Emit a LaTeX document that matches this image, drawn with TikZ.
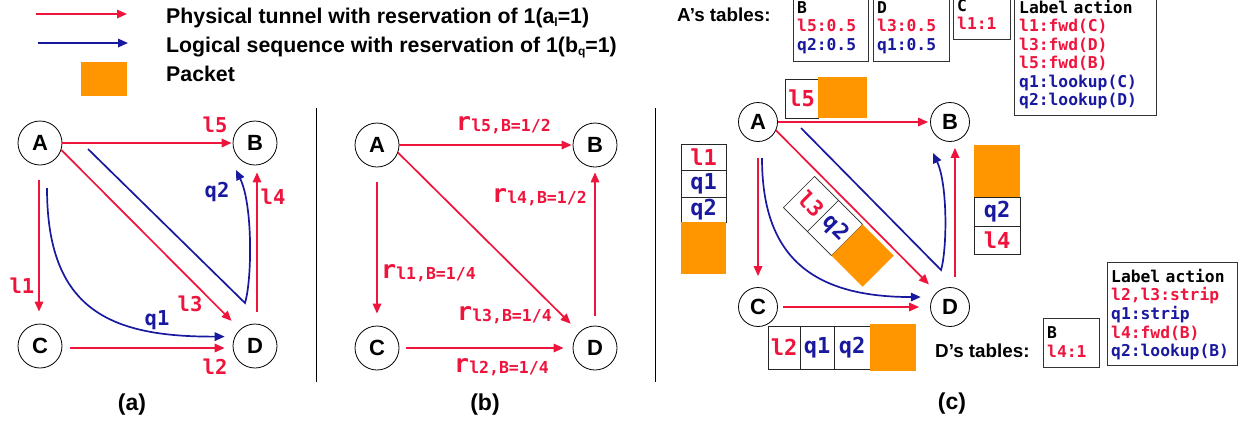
\documentclass[tikz,border=0pt]{standalone}
\usepackage{fontspec}
\setmainfont{Liberation Sans}
\newfontfamily\monof{DejaVu Sans Mono}
\usetikzlibrary{arrows.meta}
\definecolor{tred}{RGB}{238,20,60}
\definecolor{tblue}{RGB}{25,25,160}
\definecolor{pkt}{RGB}{255,150,0}
\newcommand\rsub[1]{{\fontsize{25}{25}\selectfont r}\raisebox{-1.5pt}{\fontsize{16.5}{16.5}\selectfont #1}}
\tikzset{
  every node/.style={inner sep=0pt},
  vtx/.style={circle, draw=black, line width=0.8pt, fill=white, minimum size=44pt,
    font=\fontsize{22}{22}\selectfont\bfseries},
  vtxs/.style={vtx, minimum size=39pt},
  tip/.style={-{Triangle[length=10pt,width=8.5pt]}},
  phys/.style={draw=tred, line width=1.7pt, tip},
  logi/.style={draw=tblue, line width=1.7pt, tip},
  redlab/.style={text=tred, font=\monof\bfseries\fontsize{20.5}{20.5}\selectfont},
  bluelab/.style={text=tblue, font=\monof\bfseries\fontsize{20.5}{20.5}\selectfont},
  rlab/.style={text=tred, anchor=base west, font=\monof\bfseries},
  cell/.style={draw=black!85, line width=0.6pt, fill=white, font=\monof\bfseries\fontsize{22}{22}\selectfont},
  pktbox/.style={fill=pkt, draw=none},
  tbl/.style={draw=black!80, line width=1pt, fill=white, anchor=north west},
  tbltext/.style={anchor=base west, align=left, font=\monof\bfseries\fontsize{16.3}{18.5}\selectfont},
  sans/.style={font=\fontsize{18.8}{18.8}\selectfont\bfseries},
  caption/.style={font=\fontsize{23}{23}\selectfont\bfseries},
  legtext/.style={anchor=base west, font=\fontsize{21.3}{21.3}\selectfont\bfseries}
}
\begin{document}
\begin{tikzpicture}[x=1pt,y=-1pt]
\useasboundingbox (0,0) rectangle (1241,421);
% ---------------- legend
\coordinate (lg1s) at (36,14); \coordinate (lg1e) at (127,14);
\coordinate (lg2s) at (38,43); \coordinate (lg2e) at (128,43);
\draw[phys] (lg1s) -- (lg1e);
\draw[logi] (lg2s) -- (lg2e);
\node[pktbox, minimum width=46pt, minimum height=34pt] (lgp) at (104,79) {};
\node[legtext] (lgt1) at (166,23) {Physical tunnel with reservation of 1(a\raisebox{-3pt}{\fontsize{12}{12}\selectfont l}=1)};
\node[legtext] (lgt2) at (166,52) {Logical sequence with reservation of 1(b\raisebox{-3pt}{\fontsize{12}{12}\selectfont q}=1)};
\node[legtext] (lgt3) at (166,81) {Packet};
% ---------------- dividers
\draw[line width=0.8pt] (316,108) -- (316,382);
\draw[line width=0.8pt] (655,108) -- (655,382);
% ================= panel (a)
\node[vtx] (aA) at (40,143) {A};
\node[vtx] (aB) at (255,143) {B};
\node[vtx] (aC) at (40,346) {C};
\node[vtx] (aD) at (255,346) {D};
\draw[phys, shorten >=1pt] (aA.east) -- (aB.west);
\draw[phys, shorten >=12pt] (aA.-18) -- (aD.132);
\draw[phys, shorten <=15pt, shorten >=12pt] ([xshift=-1pt]aA.south) -- ([xshift=-1pt]aC.north);
\draw[phys, shorten <=8pt, shorten >=8pt] ([yshift=-2pt]aC.east) -- ([yshift=-2pt]aD.west);
\draw[phys, shorten <=12pt, shorten >=7pt] ([xshift=2pt]aD.north) -- ([xshift=2pt]aB.south);
\coordinate (aq2s) at (88,149);
\coordinate (aq2m) at (245,303);
\coordinate (aq2e) at (236,170);
\coordinate (aq1s) at (47,188);
\draw[logi] (aq2s) -- (aq2m) .. controls (252,280) and (253,205) .. (aq2e);
\draw[logi, shorten >=10pt] (aq1s) .. controls (47,310) and (110,337) .. (aD.155);
\node[redlab] (al5) at (215,125) {l5};
\node[redlab] (al4) at (273,197) {l4};
\node[redlab] (al1) at (22,286) {l1};
\node[redlab] (al3) at (190,304) {l3};
\node[redlab] (al2) at (215,367) {l2};
\node[bluelab] (aq2) at (217,192) {q2};
\node[bluelab] (aq1) at (157,320) {q1};
\node[caption] (capa) at (132,405) {(a)};
% ================= panel (b)
\node[vtx] (bA) at (377,145) {A};
\node[vtx] (bB) at (595,145) {B};
\node[vtx] (bC) at (377,348) {C};
\node[vtx] (bD) at (595,348) {D};
\draw[phys, shorten >=1pt] (bA.east) -- (bB.west);
\draw[phys, shorten >=12pt] (bA.-20) -- (bD.135);
\draw[phys, shorten <=15pt, shorten >=12pt] (bA.south) -- (bC.north);
\draw[phys, shorten <=7pt, shorten >=9pt] (bC.east) -- (bD.west);
\draw[phys, shorten <=10pt, shorten >=5pt] (bD.north) -- (bB.south);
\node[rlab] (bl5) at (456,130) {\rsub{l5,B=1/2}};
\node[rlab] (bl4) at (492,202) {\rsub{l4,B=1/2}};
\node[rlab] (bl1) at (381,278) {\rsub{l1,B=1/4}};
\node[rlab] (bl3) at (457,320) {\rsub{l3,B=1/4}};
\node[rlab] (bl2) at (454,372) {\rsub{l2,B=1/4}};
\node[caption] (capb) at (485,405) {(b)};
% ================= panel (c)
\node[vtxs] (cA) at (758,122) {A};
\node[vtxs] (cB) at (950,122) {B};
\node[vtxs] (cC) at (758,307) {C};
\node[vtxs] (cD) at (950,307) {D};
\draw[phys, shorten >=2pt] (cA.east) -- (cB.west);
\draw[phys, shorten >=11pt] (cA.-25) -- (cD.132);
\draw[phys, shorten <=16pt, shorten >=11pt] (cA.south) -- (cC.north);
\draw[phys, shorten <=5pt, shorten >=11pt] (cC.east) -- (cD.west);
\draw[phys, shorten <=10pt, shorten >=6pt] ([xshift=5pt]cD.north) -- ([xshift=5pt]cB.south);
\coordinate (cq2s) at (801,128);
\coordinate (cq2m) at (941,270);
\coordinate (cq2e) at (933,153);
\coordinate (cq1s) at (762,158);
\draw[logi] (cq2s) -- (cq2m) .. controls (947,250) and (948,185) .. (cq2e);
\draw[logi, shorten >=12pt] (cq1s) .. controls (762,255) and (810,297) .. (cD.150);
% packet above A->B
\node[cell, text=tred, minimum width=33pt, minimum height=39pt] (p1a) at (801.5,98.5) {l5};
\node[pktbox, minimum width=49pt, minimum height=41pt] (p1b) at (842.5,97.5) {};
% left stack
\node[cell, text=tred, minimum width=45pt, minimum height=26pt] (p2a) at (703.5,157) {l1};
\node[cell, text=tblue, minimum width=45pt, minimum height=27pt] (p2b) at (703.5,183.5) {q1};
\node[cell, text=tblue, minimum width=45pt, minimum height=25pt] (p2c) at (703.5,209.5) {q2};
\node[pktbox, minimum width=45pt, minimum height=52pt] (p2d) at (703.5,248) {};
% diagonal strip
\node[cell, text=tred, rotate=-45, minimum width=34pt, minimum height=44pt] (p3a) at (811,204) {l3};
\node[cell, text=tblue, rotate=-45, minimum width=34pt, minimum height=44pt] (p3b) at (835,228) {q2};
\node[pktbox, rotate=-45, minimum width=44pt, minimum height=44pt] (p3c) at (862.6,255.6) {};
% right stack
\node[pktbox, minimum width=46pt, minimum height=52pt] (p4a) at (997,171) {};
\node[cell, text=tblue, minimum width=46pt, minimum height=29pt] (p4b) at (997,211.5) {q2};
\node[cell, text=tred, minimum width=46pt, minimum height=28pt] (p4c) at (997,240) {l4};
% bottom packet
\node[cell, text=tred, minimum width=32pt, minimum height=43pt] (p5a) at (784,347.5) {l2};
\node[cell, text=tblue, minimum width=34pt, minimum height=43pt] (p5b) at (817,347.5) {q1};
\node[cell, text=tblue, minimum width=36pt, minimum height=43pt] (p5c) at (852,347.5) {q2};
\node[pktbox, minimum width=46pt, minimum height=47pt] (p5d) at (893,347.5) {};
% A's tables
\node[sans, anchor=base west] (atitle) at (677,21) {A’s tables:};
\node[tbl, minimum width=75pt, minimum height=70pt] (tAB) at (793,-9) {};
\node[tbltext, text width=70pt] (tABt) at (797,13) {B\\{\color{tred}l5:0.5}\\{\color{tblue}q2:0.5}};
\node[tbl, minimum width=76pt, minimum height=70pt] (tAD) at (873,-9) {};
\node[tbltext, text width=70pt] (tADt) at (877,13) {D\\{\color{tred}l3:0.5}\\{\color{tblue}q1:0.5}};
\node[tbl, minimum width=57pt, minimum height=48pt] (tAC) at (953,-9) {};
\node[tbltext, text width=50pt] (tACt) at (957,11) {C\\{\color{tred}l1:1}};
\node[tbl, minimum width=142pt, minimum height=124pt] (tAL) at (1014,-9) {};
\node[tbltext, text width=136pt] (tALt) at (1019,13) {Label action\\{\color{tred}l1:fwd(C)}\\{\color{tred}l3:fwd(D)}\\{\color{tred}l5:fwd(B)}\\{\color{tblue}q1:lookup(C)}\\{\color{tblue}q2:lookup(D)}};
% D's tables
\node[sans, anchor=base west] (dtitle) at (935,357) {D’s tables:};
\node[tbl, minimum width=56pt, minimum height=49pt] (tDB) at (1043,318) {};
\node[tbltext, text width=50pt, font=\monof\bfseries\fontsize{16.3}{19.5}\selectfont] (tDBt) at (1047,338) {B\\{\color{tred}l4:1}};
\node[tbl, minimum width=130pt, minimum height=103pt] (tDL) at (1107,262) {};
\node[tbltext, text width=125pt, font=\monof\bfseries\fontsize{16.3}{18.7}\selectfont] (tDLt) at (1111,282) {Label action\\{\color{tred}l2,l3:strip}\\{\color{tblue}q1:strip}\\{\color{tred}l4:fwd(B)}\\{\color{tblue}q2:lookup(B)}};
\node[caption] (capc) at (952,404) {(c)};
\end{tikzpicture}
\end{document}
